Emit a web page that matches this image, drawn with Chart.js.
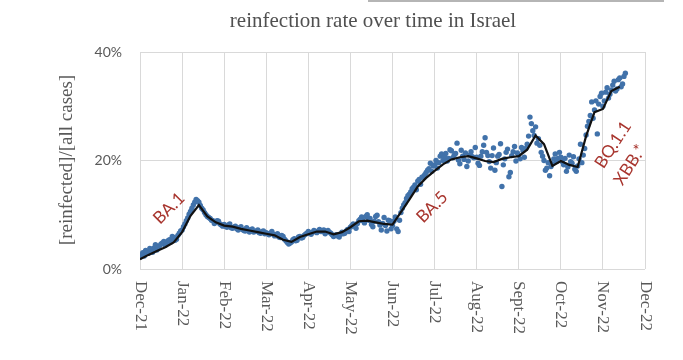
<!DOCTYPE html>
<html>
<head>
<meta charset="utf-8">
<script src="https://cdn.jsdelivr.net/npm/chart.js@4.4.0/dist/chart.umd.min.js"></script>
<style>
  html, body { margin: 0; padding: 0; background: #fff; }
  #wrap { position: relative; width: 683px; height: 360px; }
  #topline { position: absolute; left: 368px; top: 0px; width: 296px; height: 2px; background: #b5b5b5; }
  canvas { position: absolute; left: 0; top: 0; }
</style>
</head>
<body>
<div id="wrap">
  <canvas id="c" width="683" height="360"></canvas>
  <div id="topline"></div>
</div>
<script>
// ---- data ----
const monthLabels = ['Dec-21','Jan-22','Feb-22','Mar-22','Apr-22','May-22','Jun-22','Jul-22','Aug-22','Sept-22','Oct-22','Nov-22','Dec-22'];
const yTicks = [0, 20, 40];
const dayMonths = 1 / 30;
// daily reinfection share (%), even days (every 2 days from Dec 1 2021)
const evenDec = [2.2, 3.0, 3.4, 2.9, 3.6, 3.9, 3.5, 4.3, 4.8, 4.4, 5.2, 5.0, 5.8, 5.5, 6.6];
const evenJan = [7.2, 8.3, 9.4, 10.6, 11.8, 12.8, 12.3, 11.2, 10.4, 9.7, 9.3, 8.9, 8.6, 8.8, 8.1];
const evenFeb = [8.2, 7.7, 8.3, 7.5, 7.9, 7.2, 7.8, 7.1, 7.6, 6.8, 7.4, 6.9, 7.2, 6.6, 7.0];
const evenMar = [6.7, 6.3, 6.9, 6.1, 6.5, 5.8, 6.0, 5.2, 4.6, 5.0, 5.6, 5.3, 6.0, 5.8, 6.4];
const evenApr = [6.9, 6.4, 7.1, 6.7, 7.3, 6.9, 6.5, 7.1, 6.6, 6.0, 6.3, 5.9, 6.8, 6.6, 7.3];
const evenMay = [7.7, 8.3, 7.5, 8.9, 9.6, 8.5, 10.0, 9.3, 7.8, 9.7, 8.7, 7.2, 9.5, 7.0, 8.9];
const evenJun = [8.0, 9.6, 6.9, 10.4, 11.8, 13.0, 13.8, 14.8, 15.5, 16.2, 15.6, 17.0, 17.8, 18.5, 18.0];
const evenJul = [19.2, 18.6, 20.8, 20.0, 21.3, 20.4, 21.8, 21.0, 23.2, 19.4, 20.8, 21.4, 19.9, 21.6, 20.5];
const evenAug = [20.6, 19.1, 21.6, 24.2, 20.9, 18.6, 22.3, 19.6, 21.1, 15.2, 20.3, 22.1, 17.8, 21.6, 19.9];
const evenSep = [21.0, 22.4, 20.6, 23.0, 28.0, 25.5, 26.2, 24.0, 21.5, 20.0, 18.6, 17.2, 19.4, 21.2, 20.4];
const evenOct = [20.6, 19.2, 18.0, 21.0, 19.5, 18.4, 19.0, 23.0, 21.0, 24.7, 27.2, 30.8, 29.3, 24.9, 31.8];
const evenNov = [30.0, 32.6, 31.5, 33.0, 34.6, 33.2, 35.2, 34.1, 36.1];
// odd days (one day after each even day)
const oddDec = [2.6, 2.4, 3.2, 3.8, 3.1, 4.5, 4.0, 4.6, 5.1, 4.7, 5.4, 6.0, 5.3, 6.2, 7.0];
const oddJan = [7.8, 8.9, 10.1, 11.2, 12.3, 12.6, 11.7, 10.9, 10.0, 9.5, 9.0, 8.4, 8.9, 8.3, 7.9];
const oddFeb = [7.9, 8.1, 7.6, 7.7, 7.4, 7.6, 7.3, 7.0, 7.3, 7.1, 6.8, 7.0, 6.7, 6.9, 6.5];
const oddMar = [6.5, 6.6, 6.4, 6.3, 5.9, 6.2, 5.5, 4.9, 4.8, 5.4, 5.2, 5.9, 5.7, 6.2, 6.6];
const oddApr = [6.6, 6.8, 6.9, 7.0, 6.9, 7.2, 6.8, 6.8, 6.3, 6.2, 6.1, 6.4, 6.5, 7.0, 6.9];
const oddMay = [8.0, 7.9, 8.4, 9.2, 8.9, 9.7, 9.0, 8.2, 8.8, 9.9, 8.1, 8.4, 8.0, 9.0, 7.4];
const oddJun = [8.8, 7.4, 9.0, 11.2, 12.2, 13.5, 14.2, 15.1, 14.6, 16.5, 16.9, 17.4, 18.2, 19.5, 19.0];
const oddJul = [20.0, 19.6, 21.2, 20.6, 19.9, 22.0, 20.5, 21.3, 20.1, 21.9, 20.2, 18.9, 21.0, 20.7, 22.4];
const oddAug = [19.5, 20.8, 22.8, 21.5, 19.8, 20.9, 18.2, 20.8, 23.1, 19.2, 21.5, 17.0, 20.9, 22.6, 21.4];
const oddSep = [20.3, 21.8, 22.2, 24.5, 26.8, 24.6, 23.2, 22.8, 20.8, 18.2, 19.6, 18.9, 20.3, 19.8, 21.5];
const oddOct = [19.8, 20.4, 18.8, 19.8, 20.7, 18.0, 20.3, 19.6, 22.2, 26.3, 28.3, 27.8, 31.0, 30.4, 32.4];
const oddNov = [31.0, 33.4, 32.2, 33.9, 32.8, 34.9, 33.6, 35.5];
// moving average (%), one value every 0.2 month starting Dec 1 2021
const avgStepMonths = 0.2;
const avgValues = [1.8, 2.6, 3.3, 4.0, 4.9, 6.8, 9.8, 11.8, 9.7, 8.6,
  8.0, 7.8, 7.4, 7.1, 6.8, 6.5, 6.2, 5.4, 5.0, 5.9,
  6.4, 6.9, 6.9, 6.4, 6.8, 7.7, 8.8, 8.9, 8.6, 8.3,
  8.2, 10.5, 12.8, 15.2, 16.8, 18.1, 19.3, 20.2, 20.6, 20.8,
  20.4, 19.9, 19.7, 20.3, 20.6, 20.8, 22.0, 24.6, 23.0, 19.0,
  19.9, 19.2, 18.8, 24.5, 28.9, 29.5, 32.8, 33.6];
// variant annotations (label, month position, value %)
const variantLabels = ['BA.1', 'BA.5', 'BQ.1.1', 'XBB.*'];
const variantMonths = [0.69, 6.94, 11.24, 11.64];
const variantValues = [11.2, 11.4, 22.9, 19.2];

// ---- build ----
const evenValues = [].concat(evenDec, evenJan, evenFeb, evenMar, evenApr, evenMay, evenJun, evenJul, evenAug, evenSep, evenOct, evenNov);
const oddValues = [].concat(oddDec, oddJan, oddFeb, oddMar, oddApr, oddMay, oddJun, oddJul, oddAug, oddSep, oddOct, oddNov);
const dotPoints = evenValues.map((v, i) => ({ x: 2 * i * dayMonths, y: v }))
  .concat(oddValues.map((v, i) => ({ x: (2 * i + 1) * dayMonths, y: v })));
const avgPoints = avgValues.map((v, i) => ({ x: i * avgStepMonths, y: v }));
const variantAngles = [-45, -45, -57, -57];

const textGray = '#595959';
const annoColor = '#a8352e';

const decorPlugin = {
  id: 'decor',
  afterDraw(chart) {
    const ctx = chart.ctx;
    const xs = chart.scales.x, ys = chart.scales.y;
    ctx.save();
    // title
    ctx.fillStyle = '#505050';
    ctx.font = '21px "Liberation Serif", "Times New Roman", serif';
    ctx.textAlign = 'center';
    ctx.textBaseline = 'middle';
    ctx.fillText('reinfection rate over time in Israel', 373, 21);
    // y title
    ctx.fillStyle = textGray;
    ctx.save();
    ctx.translate(67, 160);
    ctx.rotate(-Math.PI / 2);
    ctx.font = '19px "Liberation Serif", "Times New Roman", serif';
    ctx.fillText('[reinfected]/[all cases]', 0, 0);
    ctx.restore();
    // x labels, rotated reading downward
    ctx.font = '17px "Liberation Serif", "Times New Roman", serif';
    ctx.textAlign = 'left';
    ctx.textBaseline = 'middle';
    monthLabels.forEach((lab, i) => {
      const px = xs.getPixelForValue(i);
      ctx.save();
      ctx.translate(px, ys.bottom + 12);
      ctx.rotate(Math.PI / 2);
      ctx.fillText(lab, 0, 0);
      ctx.restore();
    });
    // variant annotations
    ctx.fillStyle = annoColor;
    ctx.font = '17px Lato, "Open Sans", sans-serif';
    ctx.textAlign = 'center';
    variantLabels.forEach((lab, i) => {
      ctx.save();
      ctx.translate(xs.getPixelForValue(variantMonths[i]), ys.getPixelForValue(variantValues[i]));
      ctx.rotate(variantAngles[i] * Math.PI / 180);
      ctx.fillText(lab, 0, 0);
      ctx.restore();
    });
    ctx.restore();
  }
};

new Chart(document.getElementById('c'), {
  type: 'scatter',
  data: {
    datasets: [
      {
        type: 'line',
        data: avgPoints,
        borderColor: '#111111',
        borderWidth: 2.2,
        pointRadius: 0,
        tension: 0,
        fill: false,
        order: 0
      },
      {
        data: dotPoints,
        backgroundColor: '#4172aa',
        borderColor: '#4172aa',
        pointRadius: 2.7,
        borderWidth: 0,
        order: 1
      }
    ]
  },
  options: {
    responsive: false,
    animation: false,
    events: [],
    layout: { padding: { top: 52, right: 38, bottom: 91, left: 0 } },
    plugins: { legend: { display: false }, title: { display: false }, tooltip: { enabled: false } },
    scales: {
      x: {
        type: 'linear', min: 0, max: monthLabels.length - 1,
        ticks: { display: false, stepSize: 1 },
        grid: { color: '#d9d9d9', lineWidth: 1, drawTicks: false },
        border: { display: false },
        afterFit(s) { s.height = 0; }
      },
      y: {
        type: 'linear', min: yTicks[0], max: yTicks[yTicks.length - 1],
        afterBuildTicks(s) { s.ticks = yTicks.map(v => ({ value: v })); },
        ticks: {
          callback: v => v + '%',
          color: textGray,
          font: { family: 'Lato, "Open Sans", sans-serif', size: 14 },
          padding: 18
        },
        grid: { color: '#d9d9d9', lineWidth: 1, drawTicks: false },
        border: { display: false },
        afterFit(s) { s.width = 140; }
      }
    }
  },
  plugins: [decorPlugin]
});
</script>
</body>
</html>
